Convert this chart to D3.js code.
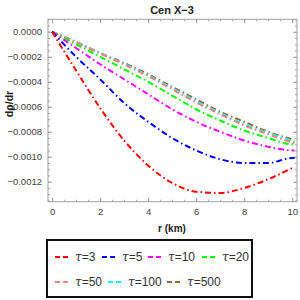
<!DOCTYPE html>
<html>
<head>
<meta charset="utf-8">
<script src="https://cdn.jsdelivr.net/npm/d3@7"></script>
<style>
body { margin: 0; background: #fff; }
svg { display: block; font-family: "Liberation Sans", Arial, sans-serif; }
</style>
</head>
<body>
<svg width="300" height="300"></svg>
<script>
// radius samples (km)
var radius = [0, 1, 2, 3, 4, 5, 6, 7, 8, 9, 10, 10.1];
// d rho / dr, one array per tau
var tau3   = [0, -0.00031, -0.00061, -0.00087, -0.00107, -0.00121, -0.00128, -0.00129, -0.00125, -0.00118, -0.00109, -0.00108];
var tau5   = [0, -0.00020, -0.00038, -0.00057, -0.00072, -0.00085, -0.00095, -0.00102, -0.00105, -0.00105, -0.00101, -0.00101];
var tau10  = [0, -0.00013, -0.00026, -0.00038, -0.00050, -0.00062, -0.00072, -0.00080, -0.00087, -0.00092, -0.00095, -0.00095];
var tau20  = [0, -0.00010, -0.00020, -0.00030, -0.00040, -0.00051, -0.00062, -0.00071, -0.00079, -0.00085, -0.00090, -0.00090];
var tau50  = [0, -0.000085, -0.000175, -0.000262, -0.000355, -0.00046, -0.000565, -0.00066, -0.00075, -0.00082, -0.000885, -0.00089];
var tau100 = [0, -0.000082, -0.000172, -0.000257, -0.000348, -0.00045, -0.000555, -0.00065, -0.00074, -0.00081, -0.000873, -0.00088];
var tau500 = [0, -0.00008, -0.00017, -0.00025, -0.00034, -0.00044, -0.00054, -0.00064, -0.00072, -0.00080, -0.00086, -0.000865];
var tauLabels = ["3", "5", "10", "20", "50", "100", "500"];
var colors = ["#ff0000", "#0000ff", "#ff00ff", "#00ff00", "#ff8080", "#00ffff", "#996633"];
var xTicks = [0, 2, 4, 6, 8, 10];
var yTicks = [0, -0.0002, -0.0004, -0.0006, -0.0008, -0.0010, -0.0012];

var allSeries = [tau3, tau5, tau10, tau20, tau50, tau100, tau500];

var svg = d3.select("svg");
var pLeft = 48, pRight = 297, pTop = 19.3, pBottom = 201.7;

var x = d3.scaleLinear().domain([-0.17, 10.2]).range([pLeft, pRight]);
var y = d3.scaleLinear().domain([-0.00136, 0.0001]).range([pBottom, pTop]);

var frameColor = "#a0a0a0";
var fmt = function(d) { return d3.format(".4f")(d).replace("-", "\u2212"); };

// frame axes, ticks point inward like mathematica
var minorX = d3.range(0, 10.01, 0.5);
var minorY = d3.range(0.0001, -0.00136, -0.00005);

svg.append("g").attr("transform", "translate(0," + pBottom + ")")
  .call(d3.axisBottom(x).tickValues(xTicks).tickSize(-4).tickPadding(7).tickFormat(d3.format("d")));
svg.append("g").attr("transform", "translate(0," + pBottom + ")")
  .call(d3.axisBottom(x).tickValues(minorX).tickSize(-2).tickFormat(""));
svg.append("g").attr("transform", "translate(0," + pTop + ")")
  .call(d3.axisTop(x).tickValues(xTicks).tickSize(-4).tickFormat(""));
svg.append("g").attr("transform", "translate(0," + pTop + ")")
  .call(d3.axisTop(x).tickValues(minorX).tickSize(-2).tickFormat(""));
svg.append("g").attr("transform", "translate(" + pLeft + ",0)")
  .call(d3.axisLeft(y).tickValues(yTicks).tickSize(-4).tickPadding(6).tickFormat(fmt));
svg.append("g").attr("transform", "translate(" + pLeft + ",0)")
  .call(d3.axisLeft(y).tickValues(minorY).tickSize(-2).tickFormat(""));
svg.append("g").attr("transform", "translate(" + pRight + ",0)")
  .call(d3.axisRight(y).tickValues(yTicks).tickSize(-4).tickFormat(""));
svg.append("g").attr("transform", "translate(" + pRight + ",0)")
  .call(d3.axisRight(y).tickValues(minorY).tickSize(-2).tickFormat(""));

svg.selectAll(".domain").remove();
svg.selectAll(".tick line").attr("stroke", frameColor);
svg.selectAll(".tick text").attr("fill", "#444").style("font-size", "9.5px").style("font-family", "Liberation Sans, Arial, sans-serif");
svg.append("rect").attr("x", pLeft).attr("y", pTop).attr("width", pRight - pLeft).attr("height", pBottom - pTop)
  .attr("fill", "none").attr("stroke", frameColor).attr("stroke-width", 1);

// curves
var line = d3.line()
  .x(function(d) { return x(d[0]); })
  .y(function(d) { return y(d[1]); })
  .curve(d3.curveMonotoneX);

svg.append("g").selectAll("path")
  .data(allSeries.slice().reverse())
  .enter().append("path")
  .attr("d", function(s) { return line(radius.map(function(r, i) { return [r, s[i]]; })); })
  .attr("fill", "none")
  .attr("stroke", function(s, i) { return colors[allSeries.length - 1 - i]; })
  .attr("stroke-width", 2)
  .attr("stroke-dasharray", "6,3,1.5,3");

// titles
svg.append("text").attr("x", 172).attr("y", 14).attr("text-anchor", "middle")
  .style("font-size", "11px").style("font-weight", "bold").attr("fill", "#222").text("Cen X\u22123");
svg.append("text").attr("x", 172).attr("y", 232).attr("text-anchor", "middle")
  .style("font-size", "10px").style("font-weight", "bold").attr("fill", "#222").text("r (km)");
svg.append("text").attr("transform", "translate(13,104) rotate(-90)").attr("text-anchor", "middle")
  .style("font-size", "10.5px").style("font-weight", "bold").attr("fill", "#222").text("d\u03c1/dr");

// legend
svg.append("rect").attr("x", 47).attr("y", 240).attr("width", 205).attr("height", 57)
  .attr("fill", "#fff").attr("stroke", "#111").attr("stroke-width", 2);

var legendPos = [[55, 257], [102, 257], [148, 257], [202, 257], [55, 282], [108, 282], [167, 282]];
var lg = svg.append("g").selectAll("g").data(tauLabels).enter().append("g")
  .attr("transform", function(d, i) { return "translate(" + legendPos[i][0] + "," + legendPos[i][1] + ")"; });
lg.append("line").attr("x1", 0).attr("x2", 15).attr("y1", 0).attr("y2", 0)
  .attr("stroke", function(d, i) { return colors[i]; }).attr("stroke-width", 2).attr("stroke-dasharray", "5,3");
lg.append("text").attr("x", 20).attr("y", 4).style("font-size", "12px").attr("fill", "#333")
  .html(function(d) { return "<tspan font-style='italic' font-family='DejaVu Serif, serif'>\u03c4</tspan>=" + d; });
</script>
</body>
</html>
